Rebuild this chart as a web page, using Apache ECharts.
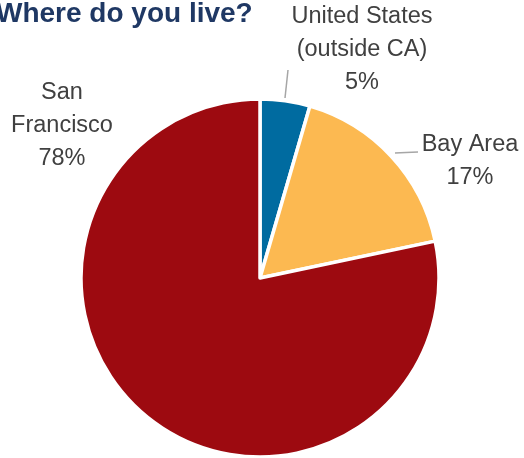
<!DOCTYPE html>
<html>
<head>
<meta charset="utf-8">
<script src="https://cdn.jsdelivr.net/npm/echarts@6/dist/echarts.min.js"></script>
<style>html,body{margin:0;padding:0;background:#fff}#c{width:524px;height:458px}</style>
</head>
<body>
<div id="c"></div>
<script>
var categories = ['United States\n(outside CA)', 'Bay Area', 'San\nFrancisco'];
var values = [4.5, 17.2, 78.3];
var colors = ['#006ba0', '#fcb951', '#9d0a10'];

var labelSpots = [
  {x: 362, y: 50, line: [[285, 98], [286.5, 84], [288, 70]]},
  {x: 470, y: 161, line: [[395, 153], [406, 152.5], [418, 152]]},
  {x: 62, y: 126, line: null}
];

var chart = echarts.init(document.getElementById('c'), null, {renderer: 'canvas'});
chart.setOption({
  animation: false,
  title: {
    text: 'Where do you live?',
    left: -4, top: 0, padding: 0,
    textStyle: {fontFamily: 'Liberation Sans, Arial, sans-serif', fontWeight: 'bold', fontSize: 28, color: '#1f3864'}
  },
  series: [{
    type: 'pie',
    center: [260, 278],
    radius: 179,
    startAngle: 90,
    clockwise: true,
    avoidLabelOverlap: false,
    itemStyle: {borderColor: '#fff', borderWidth: 3.5},
    label: {
      show: true,
      position: 'outside',
      formatter: function (p) { return p.name + '\n' + Math.round(p.value) + '%'; },
      fontFamily: 'Liberation Sans, Arial, sans-serif',
      fontSize: 23.5,
      lineHeight: 33,
      color: '#404040',
      align: 'center'
    },
    labelLine: {show: true, lineStyle: {color: '#a6a6a6', width: 1.5}},
    labelLayout: function (p) {
      var s = labelSpots[p.dataIndex];
      var o = {x: s.x, y: s.y, align: 'center', verticalAlign: 'middle'};
      if (s.line) o.labelLinePoints = s.line;
      return o;
    },
    data: categories.map(function (c, i) {
      var d = {name: c, value: values[i], itemStyle: {color: colors[i]}};
      if (!labelSpots[i].line) d.labelLine = {show: false};
      return d;
    })
  }]
});
</script>
</body>
</html>
